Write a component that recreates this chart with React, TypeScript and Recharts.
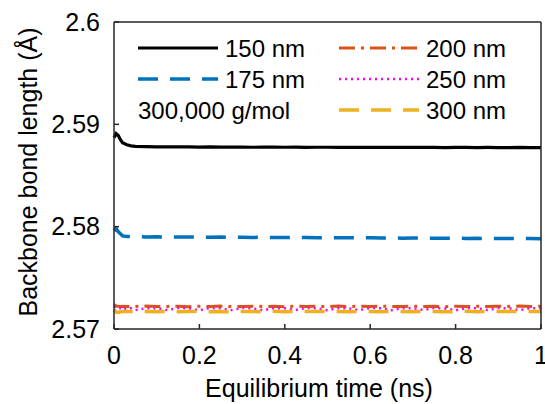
import React from 'react';
import { LineChart, Line, XAxis, YAxis } from 'recharts';

// Equilibrium time (ns)
const times = [
  0, 0.005, 0.01, 0.015, 0.02, 0.03, 0.04, 0.05, 0.075, 0.1, 0.125, 0.15, 0.175, 0.2, 0.225, 0.25,
  0.275, 0.3, 0.325, 0.35, 0.375, 0.4, 0.425, 0.45, 0.475, 0.5, 0.525, 0.55, 0.575, 0.6, 0.625,
  0.65, 0.675, 0.7, 0.725, 0.75, 0.775, 0.8, 0.825, 0.85, 0.875, 0.9, 0.925, 0.95, 0.975, 1,
];

// Backbone bond length (Å) per film thickness
const len150 = [
  2.5887, 2.5891, 2.5889, 2.5885, 2.5882, 2.588, 2.5879, 2.58785, 2.58782, 2.5878, 2.58781, 2.58779,
  2.5878, 2.58778, 2.58779, 2.58777, 2.58778, 2.58778, 2.58776, 2.58777, 2.58777, 2.58776, 2.58777,
  2.58775, 2.58776, 2.58776, 2.58775, 2.58776, 2.58774, 2.58775, 2.58775, 2.58774, 2.58775, 2.58774,
  2.58774, 2.58775, 2.58773, 2.58774, 2.58774, 2.58773, 2.58774, 2.58773, 2.58773, 2.58774, 2.58772,
  2.58773,
];
const len175 = [
  2.5796, 2.5798, 2.5795, 2.5793, 2.5791, 2.57905, 2.57903, 2.57902, 2.579, 2.57901, 2.57899, 2.579,
  2.57898, 2.57899, 2.57897, 2.57898, 2.57896, 2.57897, 2.57895, 2.57896, 2.57894, 2.57895, 2.57893,
  2.57894, 2.57892, 2.57893, 2.57891, 2.57892, 2.5789, 2.57891, 2.57889, 2.5789, 2.57888, 2.57889,
  2.57887, 2.57888, 2.57886, 2.57887, 2.57885, 2.57886, 2.57884, 2.57885, 2.57884, 2.57883, 2.57884,
  2.57882,
];
const len200 = [
  2.5724, 2.57225, 2.57222, 2.5722, 2.57223, 2.57219, 2.57222, 2.5722, 2.57224, 2.57219, 2.57221,
  2.57223, 2.57218, 2.57222, 2.5722, 2.57224, 2.57219, 2.57221, 2.57223, 2.5722, 2.57222, 2.57218,
  2.57223, 2.5722, 2.57222, 2.57219, 2.57224, 2.5722, 2.57222, 2.57219, 2.57223, 2.57221, 2.57219,
  2.57224, 2.5722, 2.57222, 2.57218, 2.57223, 2.5722, 2.57222, 2.57219, 2.57223, 2.57221, 2.57224,
  2.5722, 2.57222,
];
const len250 = [
  2.5722, 2.5721, 2.57195, 2.57203, 2.57185, 2.57205, 2.57202, 2.57184, 2.57204, 2.57201, 2.57186,
  2.57205, 2.57203, 2.57183, 2.57204, 2.57202, 2.57185, 2.57205, 2.57201, 2.57184, 2.57204, 2.57203,
  2.57186, 2.57205, 2.57202, 2.57183, 2.57204, 2.57201, 2.57185, 2.57205, 2.57203, 2.57184, 2.57204,
  2.57202, 2.57186, 2.57205, 2.57201, 2.57183, 2.57204, 2.57203, 2.57185, 2.57205, 2.57202, 2.57184,
  2.57204, 2.57202,
];
const len300 = [
  2.5719, 2.57165, 2.57162, 2.57168, 2.5717, 2.57172, 2.5717, 2.57168, 2.57171, 2.57169, 2.57172,
  2.57168, 2.5717, 2.57173, 2.57169, 2.57171, 2.57168, 2.57172, 2.5717, 2.57169, 2.57173, 2.57168,
  2.57171, 2.5717, 2.57172, 2.57169, 2.57171, 2.57168, 2.57172, 2.5717, 2.57169, 2.57173, 2.5717,
  2.57168, 2.57171, 2.57172, 2.57169, 2.5717, 2.57173, 2.57168, 2.57171, 2.5717, 2.57172, 2.57169,
  2.57171, 2.5717,
];

const xTicks = [0, 0.2, 0.4, 0.6, 0.8, 1];
const yTicks = [2.57, 2.58, 2.59, 2.6];

const series = [
  { key: 's150', name: '150 nm', values: len150, color: '#000000', dash: undefined, width: 3.2 },
  { key: 's175', name: '175 nm', values: len175, color: '#0072BD', dash: '20 12', width: 3.5 },
  { key: 's200', name: '200 nm', values: len200, color: '#D95319', dash: '16 6 3 6', width: 3 },
  { key: 's250', name: '250 nm', values: len250, color: '#FF00FF', dash: '2 4', width: 2.5 },
  { key: 's300', name: '300 nm', values: len300, color: '#EDB120', dash: '20 12', width: 3.5 },
];

const data = times.map((t, i) => {
  const row: Record<string, number> = { t };
  series.forEach(s => {
    row[s.key] = s.values[i];
  });
  return row;
});

const FONT = '"Liberation Sans", Arial, sans-serif';
const AXIS = '#262626';

// legend slots: left column then right column
const legendSlots = [
  { s: 0, x: 138, y: 48 },
  { s: 1, x: 138, y: 79 },
  { s: 2, x: 339, y: 48 },
  { s: 3, x: 339, y: 79 },
  { s: 4, x: 339, y: 110 },
];

const BottomTick = (props: any) => (
  <text x={props.x} y={364} textAnchor="middle" fontSize={25} fontFamily={FONT} fill="#000">
    {props.payload.value}
  </text>
);

const LeftTick = (props: any) => (
  <text x={100} y={props.y} dy="0.35em" textAnchor="end" fontSize={25} fontFamily={FONT} fill="#000">
    {props.payload.value}
  </text>
);

export default function App() {
  return (
    <div style={{ position: 'absolute', left: 0, top: 0, width: 545, height: 404, background: '#fff' }}>
      <LineChart
        width={545}
        height={404}
        data={data}
        margin={{ top: 22, right: 4, bottom: 75, left: 114 }}
      >
        <XAxis
          dataKey="t"
          type="number"
          domain={[0, 1]}
          ticks={xTicks}
          mirror
          tickSize={5}
          tick={BottomTick}
          stroke={AXIS}
          strokeWidth={1.5}
        />
        <XAxis
          xAxisId="top"
          orientation="top"
          dataKey="t"
          type="number"
          domain={[0, 1]}
          ticks={xTicks}
          mirror
          tickSize={5}
          tick={false}
          stroke={AXIS}
          strokeWidth={1.5}
        />
        <YAxis
          type="number"
          domain={[2.57, 2.6]}
          ticks={yTicks}
          mirror
          tickSize={5}
          tick={LeftTick}
          stroke={AXIS}
          strokeWidth={1.5}
        />
        <YAxis
          yAxisId="right"
          orientation="right"
          type="number"
          domain={[2.57, 2.6]}
          ticks={yTicks}
          mirror
          tickSize={5}
          tick={false}
          stroke={AXIS}
          strokeWidth={1.5}
        />
        {series.map(s => (
          <Line
            key={s.key}
            dataKey={s.key}
            name={s.name}
            stroke={s.color}
            strokeWidth={s.width}
            strokeDasharray={s.dash}
            dot={false}
            activeDot={false}
            isAnimationActive={false}
          />
        ))}
      </LineChart>
      <svg
        width={545}
        height={404}
        style={{ position: 'absolute', left: 0, top: 0, pointerEvents: 'none' }}
        fontFamily={FONT}
      >
        {/* legend */}
        {legendSlots.map(({ s, x, y }) => (
          <g key={series[s].key}>
            <line
              x1={x}
              x2={x + 80}
              y1={y}
              y2={y}
              stroke={series[s].color}
              strokeWidth={series[s].width}
              strokeDasharray={series[s].dash}
            />
            <text x={x + 87} y={y + 9} fontSize={24} fill="#000">
              {series[s].name}
            </text>
          </g>
        ))}
        <text x={138} y={119} fontSize={24} fill="#000">
          300,000 g/mol
        </text>
        {/* axis titles */}
        <text x={319} y={397} fontSize={25} textAnchor="middle" fill="#000">
          Equilibrium time (ns)
        </text>
        <text
          x={37}
          y={172}
          fontSize={25}
          textAnchor="middle"
          fill="#000"
          transform="rotate(-90 37 172)"
        >
          Backbone bond length (Å)
        </text>
      </svg>
    </div>
  );
}
